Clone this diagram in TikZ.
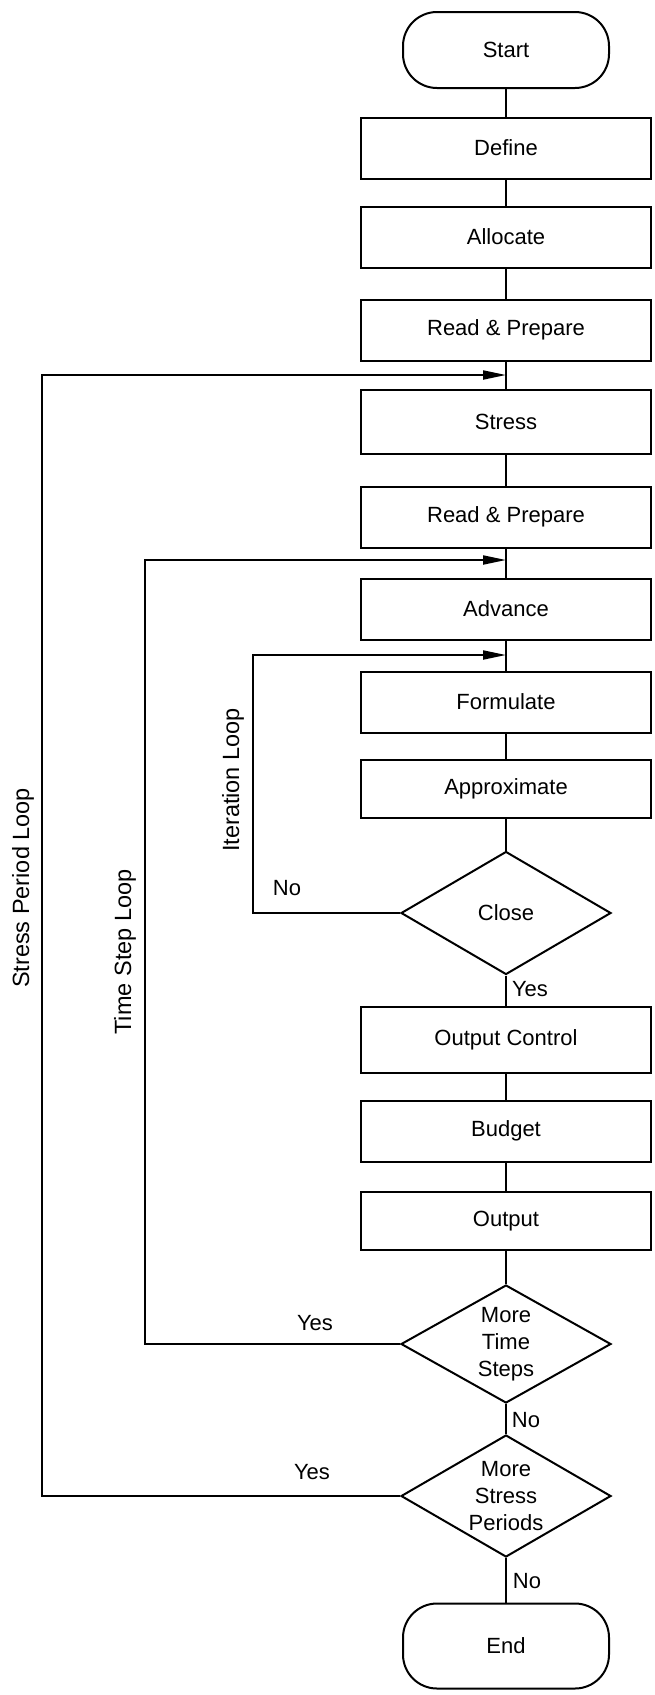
\documentclass[tikz,border=0pt]{standalone}
\usepackage{fontspec}
\setmainfont{Liberation Sans}
\usetikzlibrary{shapes.geometric,arrows.meta}
\begin{document}
\begin{tikzpicture}[x=1pt,y=-1pt,
  every node/.style={font=\fontsize{22}{27}\selectfont},
  box/.style={draw, line width=2pt, minimum width=290pt, minimum height=61pt, inner sep=0pt},
  term/.style={draw, line width=2pt, rounded corners=34pt, minimum width=206pt, inner sep=0pt},
  dec/.style={draw, diamond, line width=2pt, minimum width=210pt, minimum height=123pt, inner sep=0pt},
  conn/.style={line width=2pt},
  looparr/.style={line width=2pt, -{Triangle[length=23pt,width=9pt]}},
  lbl/.style={inner sep=0pt},
  looplbl/.style={rotate=90, font=\fontsize{23.5}{28}\selectfont, inner sep=0pt}
]
\useasboundingbox (0,0) rectangle (654,1695);

\node[term, minimum height=76pt] (start) at (506,50) {Start};
\node[box] (define) at (506,148) {Define};
\node[box] (alloc) at (506,237) {Allocate};
\node[box] (rp1) at (506,330) {Read \& Prepare};
\node[box, minimum height=64pt] (stress) at (506,422) {Stress};
\node[box] (rp2) at (506,517) {Read \& Prepare};
\node[box] (adv) at (506,609) {Advance};
\node[box] (form) at (506,702) {Formulate};
\node[box, minimum height=58pt] (approx) at (506,789) {Approximate};
\node[dec] (close) at (506,913) {Close};
\node[box, minimum height=66pt] (outc) at (506,1040) {Output Control};
\node[box] (budget) at (506,1131) {Budget};
\node[box, minimum height=58pt] (output) at (506,1221) {Output};
\node[dec, minimum height=118pt, label={[align=center]center:More\\Time\\Steps}] (mts) at (506,1344) {};
\node[dec, minimum height=122pt, label={[align=center]center:More\\Stress\\Periods}] (msp) at (506,1496) {};
\node[term, minimum height=85pt] (end) at (506,1646) {End};

\draw[conn] (start) -- (define);
\draw[conn] (define) -- (alloc);
\draw[conn] (alloc) -- (rp1);
\draw[conn] (rp1) -- (stress);
\draw[conn] (stress) -- (rp2);
\draw[conn] (rp2) -- (adv);
\draw[conn] (adv) -- (form);
\draw[conn] (form) -- (approx);
\draw[conn] (approx) -- (close);
\draw[conn] (close) -- (outc);
\draw[conn] (outc) -- (budget);
\draw[conn] (budget) -- (output);
\draw[conn] (output) -- (mts);
\draw[conn] (mts) -- (msp);
\draw[conn] (msp) -- (end);

\coordinate (spc) at (42,375);
\coordinate (spj) at (506,375);
\coordinate (tsc) at (145,560);
\coordinate (tsj) at (506,560);
\coordinate (itc) at (253,655);
\coordinate (itj) at (506,655);
\draw[looparr] (msp.west) -| (spc) -- (spj);
\draw[looparr] (mts.west) -| (tsc) -- (tsj);
\draw[looparr] (close.west) -| (itc) -- (itj);

\node[looplbl] (splbl) at (23,888) {Stress Period Loop};
\node[looplbl] (tslbl) at (125,952) {Time Step Loop};
\node[looplbl] (itlbl) at (233,780) {Iteration Loop};

\node[lbl] (no1) at (287,888) {No};
\node[lbl] (yes1) at (530,989) {Yes};
\node[lbl] (yes2) at (315,1323) {Yes};
\node[lbl] (no2) at (526,1420) {No};
\node[lbl] (yes3) at (312,1472) {Yes};
\node[lbl] (no3) at (527,1581) {No};
\end{tikzpicture}
\end{document}
